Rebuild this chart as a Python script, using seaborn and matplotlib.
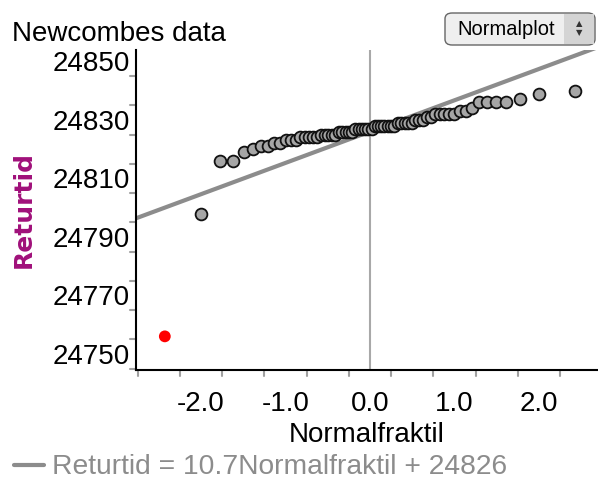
import numpy as np
import pandas as pd
import seaborn as sns
import matplotlib
matplotlib.use("Agg")
import matplotlib.pyplot as plt
from matplotlib.patches import FancyBboxPatch
from statistics import NormalDist

# Newcomb's passage-time measurements (deviations from 24800)
deviations = [28, 26, 33, 24, 34, -44, 27, 16, 40, -2,
              29, 22, 24, 21, 25, 30, 23, 29, 31, 19,
              24, 20, 36, 32, 36, 28, 25, 21, 28, 29,
              37, 25, 28, 26, 30, 32, 36, 26, 30, 22,
              36, 23, 27, 27, 28, 27, 31, 27, 26, 33,
              26, 32, 32, 24, 39, 28, 24, 25, 32, 25,
              29, 27, 28, 29, 16, 23]
base = 24800
slope = 10.7
intercept = 24826
x_ticks = [-2.0, -1.0, 0.0, 1.0, 2.0]
y_ticks = [24750, 24770, 24790, 24810, 24830, 24850]

returtid = np.sort(np.array(deviations) + base)
n = len(returtid)
nd = NormalDist()
fraktil = np.array([nd.inv_cdf((i + 0.5) / n) for i in range(n)])
df = pd.DataFrame({"Normalfraktil": fraktil, "Returtid": returtid})
df["outlier"] = df["Returtid"] < 24770

sns.set_style("white")
plt.rcParams["font.family"] = ["Liberation Sans", "DejaVu Sans"]
plt.rcParams["text.color"] = "black"
plt.rcParams["axes.labelcolor"] = "black"
plt.rcParams["xtick.color"] = "black"
plt.rcParams["ytick.color"] = "black"

W, H = 598, 480
fig = plt.figure(figsize=(W/100, H/100), dpi=100)
ax = fig.add_axes([136/W, 110/H, (598-136)/W, (370-50)/H])

xlim = (-2.77, 2.70)
ylim = (24744.5, 24853.9)
ax.set_xlim(*xlim)
ax.set_ylim(*ylim)

ax.axvline(0, color="#a8a8a8", lw=1.5, zorder=1)
xs = np.array(xlim)
sns.lineplot(x=xs, y=intercept + slope * xs, ax=ax, color="#8c8c8c", lw=3, zorder=2)

sns.scatterplot(data=df[~df["outlier"]], x="Normalfraktil", y="Returtid", ax=ax,
                color="#a6a6a6", edgecolor="#111111", linewidth=1.3, s=72, zorder=3)
sns.scatterplot(data=df[df["outlier"]], x="Normalfraktil", y="Returtid", ax=ax,
                color="#ff0000", edgecolor="none", s=72, zorder=3)

for s in ["top", "right"]:
    ax.spines[s].set_visible(False)
for s in ["left", "bottom"]:
    ax.spines[s].set_color("black")
    ax.spines[s].set_linewidth(1.5)

ax.set_xticks(x_ticks)
ax.set_xticklabels([f"{v:.1f}" for v in x_ticks])
ax.set_yticks(y_ticks)
ax.set_yticklabels([str(v) for v in y_ticks])
ax.set_xticks([v for v in np.arange(-2.5, 2.6, 0.5) if v not in x_ticks], minor=True)
ax.set_yticks([v for v in np.arange(24750, 24855, 10) if v not in y_ticks], minor=True)
ax.tick_params(axis="x", which="both", labelsize=20, length=7, width=1.5,
               color="black", labelcolor="black", direction="out", pad=8)
ax.tick_params(axis="y", which="both", labelsize=20, length=9, width=1.5,
               color="black", labelcolor="black", direction="inout", pad=0)
# gray intermediate ticks
for v in np.arange(-2.75, 2.6, 0.5):
    ax.plot([v, v], [0, -6/320], transform=ax.get_xaxis_transform(), color="#a0a0a0",
            lw=1.5, clip_on=False)
for v in np.arange(24745, 24855, 10):
    ax.plot([0, -6/462], [v, v], transform=ax.get_yaxis_transform(), color="#a0a0a0",
            lw=1.5, clip_on=False)

ax.set_xlabel("Normalfraktil", fontsize=20, labelpad=4, color="black")
ax.set_ylabel("")
fig.text(23.5/W, 1 - 209/H, "Returtid", fontsize=18, fontweight="bold", color="#a0107a",
         family=["DejaVu Sans"], rotation=90, va="center", ha="center")

fig.text(12/W, 1 - 41/H, "Newcombes data", fontsize=20, va="baseline", ha="left")

# legend line at bottom
fig.add_artist(plt.Line2D([14/W, 44/W], [1 - 465/H, 1 - 465/H], color="#8c8c8c", lw=3))
fig.text(52/W, 1 - 474/H, f"Returtid = {slope}Normalfraktil + {intercept}",
         fontsize=20.3, color="#8c8c8c", va="baseline", ha="left")

# Normalplot button
btn = FancyBboxPatch((445/W, 1 - 45/H), (595-445)/W, 32/H,
                     boxstyle="round,pad=0,rounding_size=0.012", transform=fig.transFigure,
                     facecolor="#efefef", edgecolor="#666666", lw=1)
fig.add_artist(btn)
fig.add_artist(FancyBboxPatch((564/W, 1 - 44/H), (594-564)/W, 30/H,
                              boxstyle="square,pad=0", transform=fig.transFigure,
                              facecolor="#d4d4d4", edgecolor="none"))
fig.text(457/W, 1 - 35/H, "Normalplot", fontsize=14.5, va="baseline", ha="left")
fig.text(579/W, 1 - 24/H, "▲", fontsize=6, va="center", ha="center", color="#333333",
         family=["DejaVu Sans"])
fig.text(579/W, 1 - 33/H, "▼", fontsize=6, va="center", ha="center", color="#333333",
         family=["DejaVu Sans"])

fig.savefig("out.png", dpi=100)
